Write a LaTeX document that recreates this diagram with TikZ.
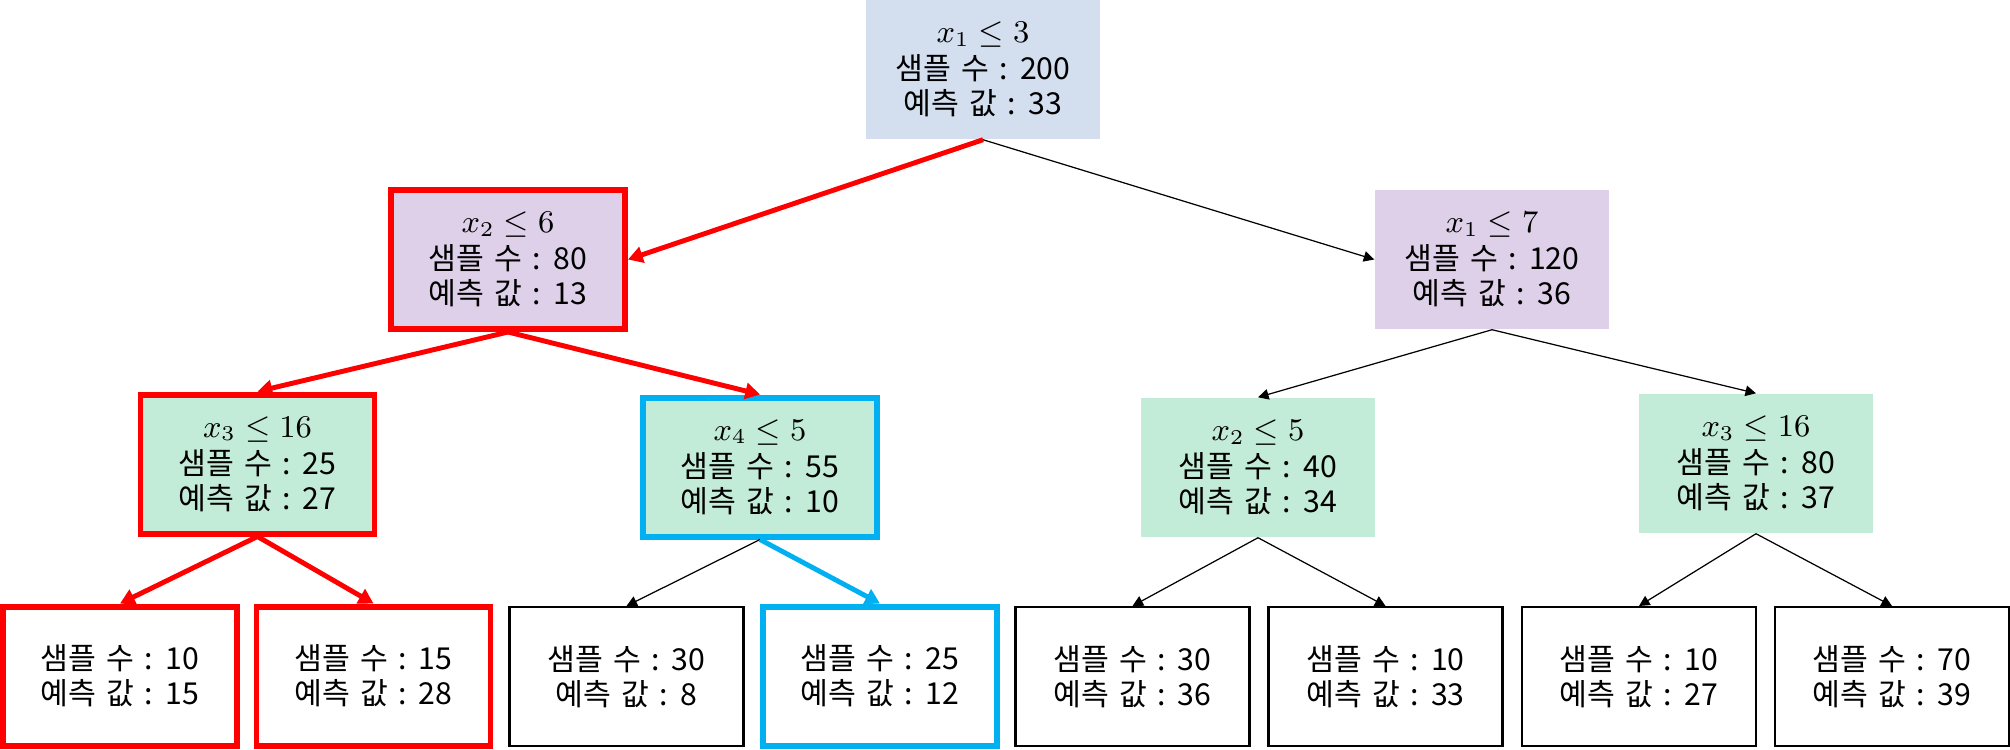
\documentclass[tikz,border=0pt]{standalone}
\usepackage{fontspec}
\setmainfont[WordSpace=1.5]{Noto Sans CJK KR}
\usepackage{tikz}
\usetikzlibrary{arrows.meta,positioning}
\definecolor{rootblue}{HTML}{D3DEEF}
\definecolor{lilac}{HTML}{DDD0E8}
\definecolor{mint}{HTML}{C3ECD8}
\definecolor{hotred}{HTML}{FF0000}
\definecolor{skyblue}{HTML}{00B0F0}

\begin{document}
\begin{tikzpicture}[
  box/.style={minimum width=2.34cm,minimum height=1.39cm,inner sep=0pt,align=center,
    font=\fontsize{8.6}{10}\selectfont},
  split/.style={box,draw=none},
  leaf/.style={box,draw=black,line width=0.6pt},
  redbox/.style={draw=hotred,line width=1.7pt},
  bluebox/.style={draw=skyblue,line width=1.7pt},
  link/.style={draw=black,line width=0.35pt,-{Triangle[length=3pt,width=3pt]}},
  hot/.style={draw=hotred,line width=1.4pt,-{Triangle[length=4.2pt,width=4.6pt]}},
  cool/.style={draw=skyblue,line width=1.4pt,-{Triangle[length=4.2pt,width=4.6pt]}}
]
\useasboundingbox (0,0) rectangle (20.10,-7.49);
\node[split,fill=rootblue] (root) at (9.83,-0.695) {$x_1 \le 3$\\[0.5pt]샘플 수 : 200\\예측 값 : 33};
\node[split,fill=lilac,redbox] (l) at (5.08,-2.595) {$x_2 \le 6$\\[0.5pt]샘플 수 : 80\\예측 값 : 13};
\node[split,fill=lilac] (r) at (14.92,-2.595) {$x_1 \le 7$\\[0.5pt]샘플 수 : 120\\예측 값 : 36};
\node[split,fill=mint,redbox] (ll) at (2.575,-4.64) {$x_3 \le 16$\\[0.5pt]샘플 수 : 25\\예측 값 : 27};
\node[split,fill=mint,bluebox] (lr) at (7.60,-4.67) {$x_4 \le 5$\\[0.5pt]샘플 수 : 55\\예측 값 : 10};
\node[split,fill=mint] (rl) at (12.58,-4.675) {$x_2 \le 5$\\[0.5pt]샘플 수 : 40\\예측 값 : 34};
\node[split,fill=mint] (rr) at (17.56,-4.635) {$x_3 \le 16$\\[0.5pt]샘플 수 : 80\\예측 값 : 37};
\node[leaf,redbox] (lll) at (1.20,-6.76) {샘플 수 : 10\\예측 값 : 15};
\node[leaf,redbox] (llr) at (3.735,-6.76) {샘플 수 : 15\\예측 값 : 28};
\node[leaf] (lrl) at (6.265,-6.765) {샘플 수 : 30\\예측 값 : 8};
\node[leaf,bluebox] (lrr) at (8.80,-6.76) {샘플 수 : 25\\예측 값 : 12};
\node[leaf] (rll) at (11.325,-6.765) {샘플 수 : 30\\예측 값 : 36};
\node[leaf] (rlr) at (13.855,-6.765) {샘플 수 : 10\\예측 값 : 33};
\node[leaf] (rrl) at (16.39,-6.765) {샘플 수 : 10\\예측 값 : 27};
\node[leaf] (rrr) at (18.92,-6.765) {샘플 수 : 70\\예측 값 : 39};
\draw[hot] (root.south) -- (l.east);
\draw[link] (root.south) -- (r.west);
\draw[hot] (l.south) -- (ll.north);
\draw[hot] (l.south) -- (lr.north);
\draw[link] (r.south) -- (rl.north);
\draw[link] (r.south) -- (rr.north);
\draw[hot] (ll.south) -- (lll.north);
\draw[hot] (ll.south) -- (llr.north);
\draw[link] (lr.south) -- (lrl.north);
\draw[cool] (lr.south) -- (lrr.north);
\draw[link] (rl.south) -- (rll.north);
\draw[link] (rl.south) -- (rlr.north);
\draw[link] (rr.south) -- (rrl.north);
\draw[link] (rr.south) -- (rrr.north);
\end{tikzpicture}
\end{document}
